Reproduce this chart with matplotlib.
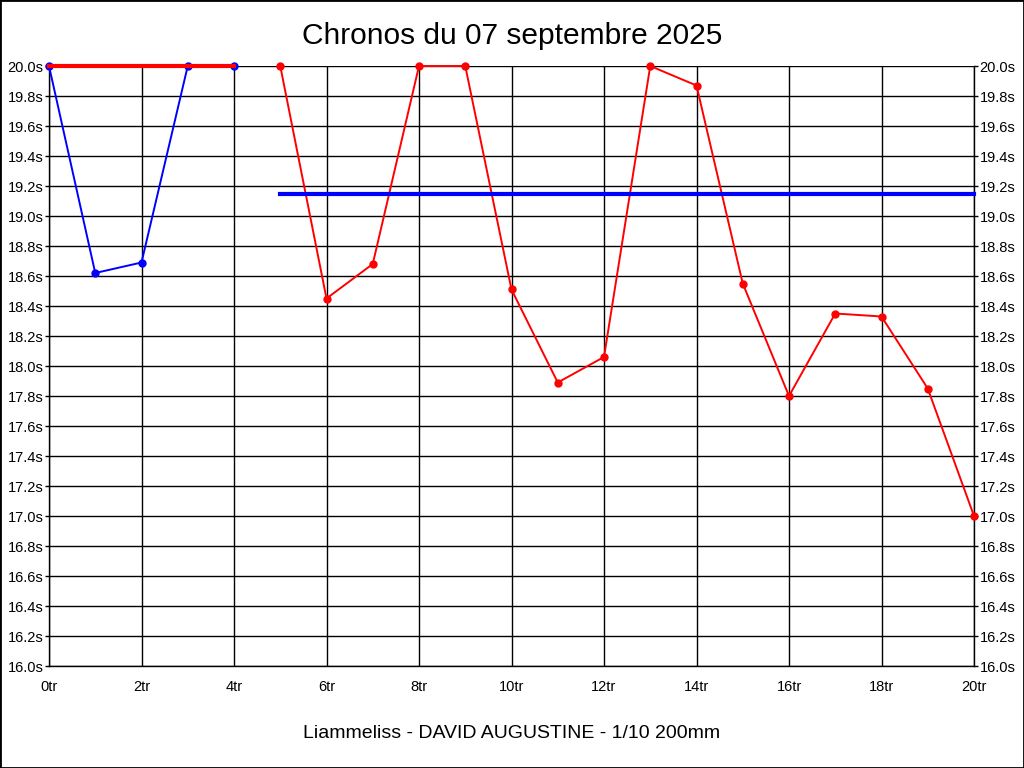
import numpy as np
import matplotlib
matplotlib.use("Agg")
import matplotlib.pyplot as plt
from matplotlib.patches import Rectangle

plt.rcParams["font.family"] = ["Liberation Sans", "DejaVu Sans"]

# lap times (s) per lap number
LAPS_BLUE = [0, 1, 2, 3, 4]
TIMES_BLUE = [20.0, 18.62, 18.69, 20.0, 20.0]
LAPS_RED = [5, 6, 7, 8, 9, 10, 11, 12, 13, 14, 15, 16, 17, 18, 19, 20]
TIMES_RED = [20.0, 18.45, 18.68, 20.0, 20.0, 18.51, 17.89, 18.06, 20.0, 19.87,
             18.55, 17.80, 18.35, 18.33, 17.85, 17.0]
# reference levels
REF_RED_LAPS = [0, 4]
REF_RED = [20.0, 20.0]
REF_BLUE_LAPS = [5, 20]
REF_BLUE = [19.15, 19.15]

X_TICKS = list(range(0, 21, 2))
Y_TICKS = [round(16.0 + 0.2 * i, 1) for i in range(21)]

TITLE = "Chronos du 07 septembre 2025"
FOOTER = "Liammeliss - DAVID AUGUSTINE - 1/10 200mm"

fig = plt.figure(figsize=(10.24, 7.68), dpi=100)
fig.patch.set_facecolor("white")
ax = fig.add_axes([49 / 1024, 102 / 768, 925 / 1024, 600 / 768])

ax.set_xlim(0, 20)
ax.set_ylim(16.0, 20.0)
ax.set_xticks(X_TICKS)
ax.set_xticklabels([f"{v}tr" for v in X_TICKS])
ax.set_yticks(Y_TICKS)
ax.set_yticklabels([f"{v:.1f}s" for v in Y_TICKS])
ax.grid(True, color="black", lw=1.0)
ax.set_axisbelow(True)
ax.spines["top"].set_visible(False)
for s in ["left", "bottom", "right"]:
    ax.spines[s].set_linewidth(1.0)
    ax.spines[s].set_color("black")
ax.tick_params(axis="y", which="both", left=True, right=True, labelleft=True,
               labelright=True, length=3, width=1, pad=1, labelsize=10.5,
               direction="out")
ax.tick_params(axis="x", length=0, pad=10, labelsize=10.5)

ax.plot(LAPS_BLUE, TIMES_BLUE, color="blue", lw=1.4, marker="o", ms=5,
        clip_on=False, zorder=3)
ax.plot(LAPS_RED, TIMES_RED, color="red", lw=1.4, marker="o", ms=5,
        clip_on=False, zorder=3)
ax.plot(REF_RED_LAPS, REF_RED, color="red", lw=3, clip_on=False, zorder=4)
ax.plot(REF_BLUE_LAPS, REF_BLUE, color="blue", lw=3, clip_on=False, zorder=5)

fig.text(0.5, 1 - 36 / 768, TITLE, ha="center", va="center", fontsize=21.5)
fig.text(0.5, 1 - 733 / 768, FOOTER, ha="center", va="center", fontsize=14)

fig.patches.append(Rectangle((0, 0), 1, 1, transform=fig.transFigure,
                             fill=False, edgecolor="black", lw=2))

fig.savefig("out.png", dpi=100)
